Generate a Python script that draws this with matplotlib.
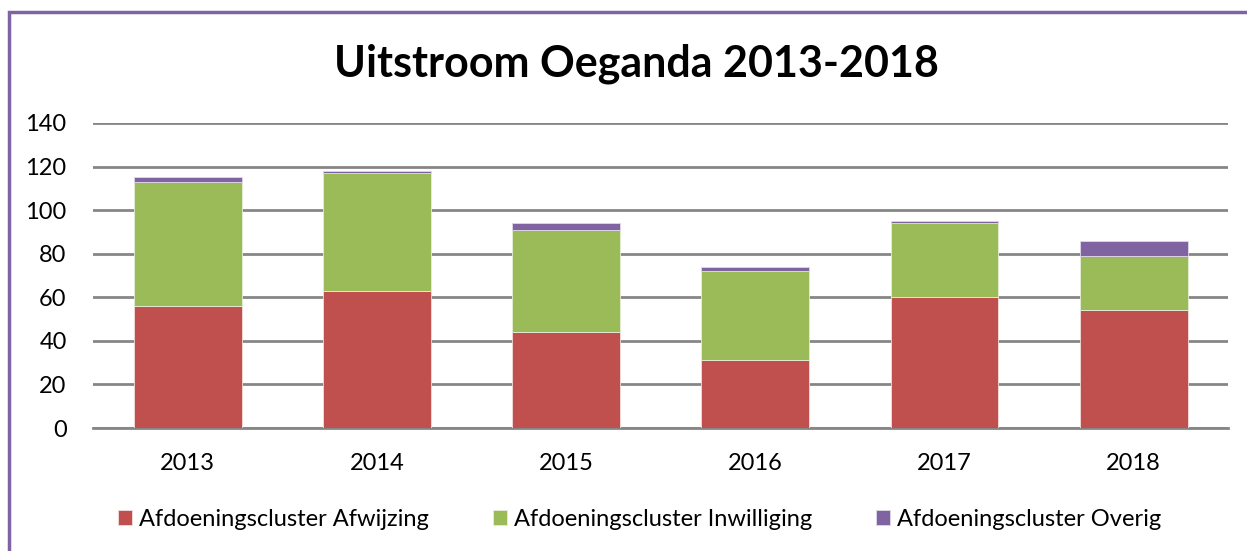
import matplotlib.pyplot as plt
import matplotlib.patches as mpatches
import numpy as np

plt.rcParams['font.family'] = ['Lato', 'DejaVu Sans']

years = ["2013", "2014", "2015", "2016", "2017", "2018"]
afwijzing = [56, 63, 44, 31, 60, 54]
inwilliging = [57, 54, 47, 41, 34, 25]
overig = [2, 1, 3, 2, 1, 7]

labels = ["Afdoeningscluster Afwijzing", "Afdoeningscluster Inwilliging", "Afdoeningscluster Overig"]
colors = ["#C0504D", "#9BBB59", "#8064A2"]

fig = plt.figure(figsize=(12.47, 5.51), dpi=100)
ax = fig.add_axes([0.0746, 0.2232, 0.9104, 0.5536])

x = np.arange(len(years))
w = 0.57
b1 = ax.bar(x, afwijzing, w, color=colors[0], edgecolor="#f4dcdc", linewidth=0.6, zorder=3)
b2 = ax.bar(x, inwilliging, w, bottom=afwijzing, color=colors[1], edgecolor="#e6eed8", linewidth=0.6, zorder=3)
bot = np.array(afwijzing) + np.array(inwilliging)
b3 = ax.bar(x, overig, w, bottom=bot, color=colors[2], edgecolor="#e0d8ea", linewidth=0.6, zorder=3)

ax.set_xlim(-0.5, len(years) - 0.5)
ax.set_ylim(0, 140)
ax.set_yticks(range(0, 141, 20))
ax.set_xticks(x)
ax.set_xticklabels(years)
ax.grid(axis="y", color="#868686", linewidth=2, zorder=0)
for s in ["top", "right", "left"]:
    ax.spines[s].set_visible(False)
ax.spines["bottom"].set_color("#868686")
ax.spines["bottom"].set_linewidth(2)
ax.tick_params(axis="y", length=0, pad=19, labelsize=17)
ax.tick_params(axis="x", length=0, pad=18, labelsize=17)

fig.text(0.51, 0.885, "Uitstroom Oeganda 2013-2018", ha="center", va="center",
         fontsize=31, fontweight="bold")

fig.legend([b1, b2, b3], labels, loc="center", bbox_to_anchor=(0.513, 0.058), ncol=3,
           frameon=False, fontsize=17, handlelength=0.6, handleheight=0.6,
           handletextpad=0.3, columnspacing=2.7)

# purple frame (left and top visible)
frame = mpatches.Rectangle((9 / 1247, -0.1), 1.2, 1 - 12 / 551 + 0.1, transform=fig.transFigure,
                           fill=False, edgecolor="#8064A2", linewidth=2.5)
fig.patches.append(frame)

fig.savefig("out.png", dpi=100)
